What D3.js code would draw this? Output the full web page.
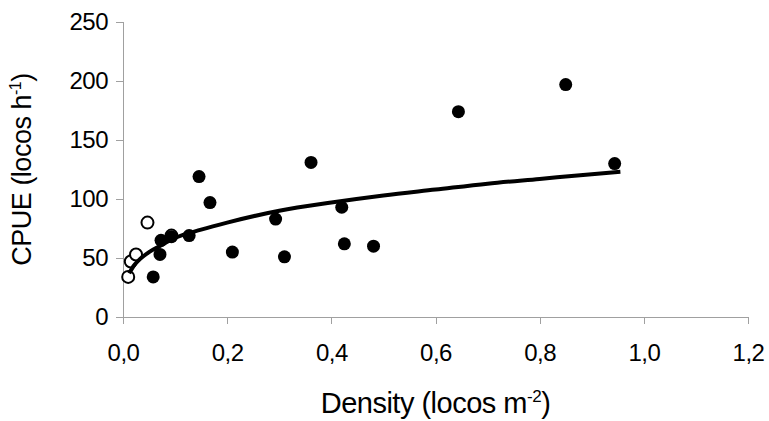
<!DOCTYPE html>
<html>
<head>
<meta charset="utf-8">
<script src="https://cdn.jsdelivr.net/npm/d3@7"></script>
<style>
  body { margin: 0; background: #fff; }
  text { font-family: "Liberation Sans", Arial, sans-serif; fill: #000; }
  .axis path, .axis line { stroke: #a0a0a0; stroke-width: 1; shape-rendering: crispEdges; }
</style>
</head>
<body>
<div id="chart"></div>
<script>
// filled circles (density, CPUE)
var filledX = [0.058, 0.071, 0.073, 0.093, 0.127, 0.146, 0.167, 0.21, 0.293, 0.31, 0.361, 0.42, 0.425, 0.481, 0.644, 0.85, 0.944];
var filledY = [34, 53, 65, 68, 69, 119, 97, 55, 83, 51, 131, 93, 62, 60, 174, 197, 130];
// open circles
var openX = [0.010, 0.015, 0.025, 0.047, 0.093];
var openY = [34, 47, 53, 80, 69];
// fitted curve
var curveX = [0.012, 0.02, 0.03, 0.05, 0.07, 0.1, 0.15, 0.2, 0.3, 0.4, 0.5, 0.6, 0.7, 0.8, 0.9, 0.955];
var curveY = [37, 43, 48, 55, 60, 67, 74, 80, 90, 97, 103, 108, 113, 117, 121, 123];
var xTicks = [0, 0.2, 0.4, 0.6, 0.8, 1.0, 1.2];
var yTicks = [0, 50, 100, 150, 200, 250];

// set the dimensions and margins of the graph
var margin = {top: 22, right: 21, bottom: 104, left: 123},
    width = 769 - margin.left - margin.right,
    height = 421 - margin.top - margin.bottom;

var svg = d3.select("#chart")
    .append("svg")
    .attr("width", 769)
    .attr("height", 421)
    .append("g")
    .attr("transform", "translate(" + margin.left + "," + margin.top + ")");

var x = d3.scaleLinear().domain([0, 1.2]).range([0, width]);
var y = d3.scaleLinear().domain([0, 250]).range([height, 0]);

var fmt = function (d) { return d3.format(".1f")(d).replace(".", ","); };

// x axis
var xAxis = svg.append("g")
    .attr("class", "axis")
    .attr("transform", "translate(0," + height + ")")
    .call(d3.axisBottom(x).tickValues(xTicks).tickFormat(fmt).tickSizeOuter(0).tickSize(7).tickPadding(20));
xAxis.selectAll("text").style("font-size", "24px").style("letter-spacing", "-0.5px");

// y axis
var yAxis = svg.append("g")
    .attr("class", "axis")
    .call(d3.axisLeft(y).tickValues(yTicks).tickSizeOuter(0).tickSize(7).tickPadding(8));
yAxis.selectAll("text").style("font-size", "24px").style("letter-spacing", "-0.5px");

// x axis label
var xl = svg.append("text")
    .attr("text-anchor", "middle")
    .attr("x", width / 2)
    .attr("y", height + 96)
    .style("font-size", "29px")
    .style("letter-spacing", "-0.5px");
xl.append("tspan").text("Density (locos m");
xl.append("tspan").attr("dy", -11).style("font-size", "17px").text("-2");
xl.append("tspan").attr("dy", 11).text(")");

// y axis label
var yl = svg.append("text")
    .attr("text-anchor", "middle")
    .attr("transform", "translate(" + (-92) + "," + (height / 2) + ") rotate(-90)")
    .style("font-size", "27px")
    .style("letter-spacing", "-0.5px");
yl.append("tspan").text("CPUE (locos h");
yl.append("tspan").attr("dy", -10).style("font-size", "16px").text("-1");
yl.append("tspan").attr("dy", 10).text(")");

// points
svg.selectAll(".open")
    .data(openX.map(function (d, i) { return [d, openY[i]]; }))
    .enter().append("circle")
    .attr("class", "open")
    .attr("cx", function (d) { return x(d[0]); })
    .attr("cy", function (d) { return y(d[1]); })
    .attr("r", 6)
    .style("fill", "#fff")
    .style("stroke", "#000")
    .style("stroke-width", 2);

svg.selectAll(".filled")
    .data(filledX.map(function (d, i) { return [d, filledY[i]]; }))
    .enter().append("circle")
    .attr("class", "filled")
    .attr("cx", function (d) { return x(d[0]); })
    .attr("cy", function (d) { return y(d[1]); })
    .attr("r", 6.5)
    .style("fill", "#000");

// curve
var line = d3.line()
    .x(function (d) { return x(d[0]); })
    .y(function (d) { return y(d[1]); })
    .curve(d3.curveMonotoneX);
svg.append("path")
    .datum(curveX.map(function (d, i) { return [d, curveY[i]]; }))
    .attr("d", line)
    .style("fill", "none")
    .style("stroke", "#000")
    .style("stroke-width", 4);
</script>
</body>
</html>
